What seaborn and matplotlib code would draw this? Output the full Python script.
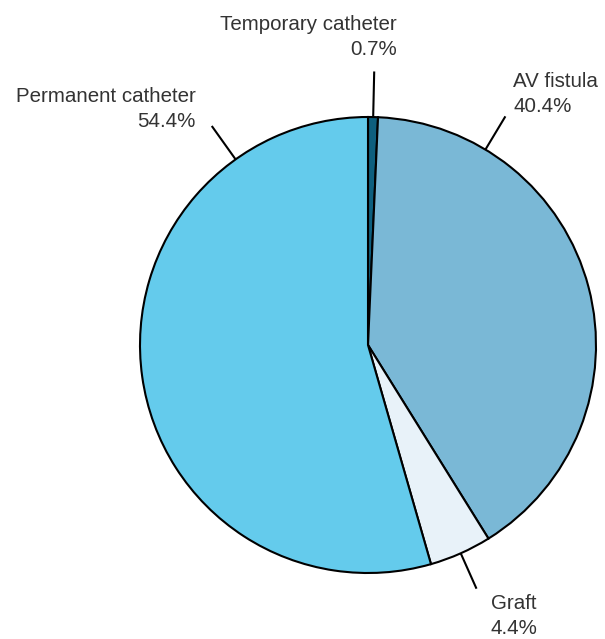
import numpy as np
import matplotlib
matplotlib.use("Agg")
import matplotlib.pyplot as plt
import seaborn as sns

# Data
categories = ["Temporary catheter", "AV fistula", "Graft", "Permanent catheter"]
shares = [0.7, 40.4, 4.4, 54.4]
colors = ["#0e5f7e", "#7ab8d6", "#e8f2f9", "#64cbec"]

# leader-line angles (deg), lengths and label placement
leader_angles = [88.7, 59.0, -66.0, 125.5]
leader_len = [1.2, 1.17, 1.17, 1.18]
label_offsets = [(23, 12), (8, 0), (14, -5), (-16, -5)]
label_align = [("right", "bottom"), ("left", "bottom"), ("left", "top"), ("right", "bottom")]

sns.set_theme(style="white")
plt.rcParams["font.family"] = ["Liberation Sans", "DejaVu Sans"]

W, H = 605, 639
cx, cy, R = 368, 345, 228
fig = plt.figure(figsize=(W / 100, H / 100), dpi=100)
ax = fig.add_axes([0, 0, 1, 1])

ax.pie(shares, colors=colors, startangle=90, counterclock=False, radius=1,
       wedgeprops=dict(edgecolor="black", linewidth=1.5))

ax.set_xlim(-cx / R, (W - cx) / R)
ax.set_ylim(-(H - cy) / R, cy / R)
ax.set_aspect("equal")
ax.axis("off")

for name, val, ang, ln, off, (ha, va) in zip(categories, shares, leader_angles, leader_len,
                                              label_offsets, label_align):
    a = np.deg2rad(ang)
    x0, y0 = np.cos(a), np.sin(a)
    x1, y1 = ln * np.cos(a), ln * np.sin(a)
    ax.plot([x0, x1], [y0, y1], color="black", lw=1.5, solid_capstyle="butt")
    ax.annotate(f"{name}\n{val}%", xy=(x1, y1), xytext=(off[0] * 0.72, off[1] * 0.72),
                textcoords="offset points", ha=ha, va=va, fontsize=14.8,
                color="#333333", linespacing=1.4, multialignment=ha)

fig.savefig("out.png", dpi=100)
